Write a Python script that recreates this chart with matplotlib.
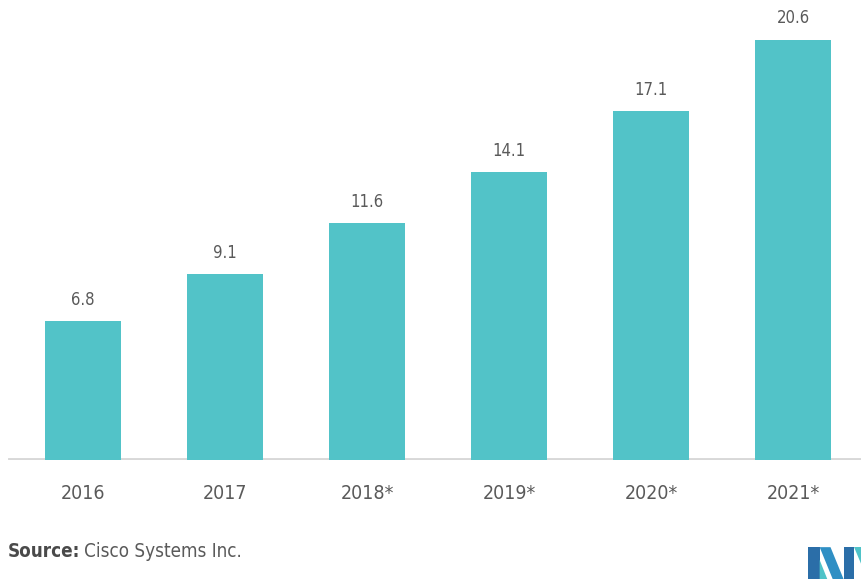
import matplotlib
matplotlib.use("Agg")
import matplotlib.pyplot as plt
import matplotlib.patches as mpatches

years = ["2016", "2017", "2018*", "2019*", "2020*", "2021*"]
values = [6.8, 9.1, 11.6, 14.1, 17.1, 20.6]

BAR_COLOR = "#52c3c8"
TEXT_COLOR = "#5a5a5a"

plt.rcParams["font.family"] = ["DejaVu Sans"]
plt.rcParams["font.stretch"] = "condensed"

fig = plt.figure(figsize=(8.62, 5.79), dpi=100)
ax = fig.add_axes([0.0, 0.2055, 1.0, 0.7945])

x = list(range(len(years)))
bars = ax.bar(x, values, width=0.54, color=BAR_COLOR, zorder=2)

for rect, v in zip(bars, values):
    ax.annotate(f"{v:.1f}", (rect.get_x() + rect.get_width() / 2, v),
                xytext=(0, 9), textcoords="offset points",
                ha="center", va="bottom", fontsize=12, color=TEXT_COLOR)

ax.set_xlim(-0.585, 5.486)
ax.set_ylim(0, 22.55)
ax.axhline(0, xmin=0.012, xmax=1.0, color="#d8d8d8", linewidth=2.8, zorder=1)

ax.set_xticks(x)
ax.set_xticklabels(years, fontsize=14, color=TEXT_COLOR)
ax.tick_params(axis="x", length=0, pad=17)
ax.set_yticks([])
for s in ax.spines.values():
    s.set_visible(False)

# source line
src = fig.text(0.009, 0.048, "Source:", fontsize=13.5, fontweight="bold",
               color="#4a4a4a", ha="left", va="center")
fig.canvas.draw()
bb = src.get_window_extent().transformed(fig.transFigure.inverted())
fig.text(bb.x1 + 0.005, 0.048, "Cisco Systems Inc.", fontsize=13.5,
         color=TEXT_COLOR, ha="left", va="center")

# small corner logo
logo = fig.add_axes([0.937, 0.0, 0.063, 0.055])
logo.set_xlim(0, 10)
logo.set_ylim(0, 6)
logo.axis("off")
shapes = [
    ([(0, 0), (0, 6), (2.2, 6), (2.2, 0)], "#2b6ea8"),
    ([(2.2, 6), (4.2, 6), (6.6, 0), (4.6, 0)], "#2f8fc4"),
    ([(2.2, 0), (2.2, 3.6), (3.6, 0)], "#4fc3c8"),
    ([(6.6, 0), (6.6, 6), (8.6, 6), (8.6, 0)], "#2b6ea8"),
    ([(8.6, 6), (10, 6), (10, 2.5)], "#4fc3c8"),
]
for pts, col in shapes:
    logo.add_patch(mpatches.Polygon(pts, closed=True, color=col, lw=0))

fig.savefig("out.png", dpi=100)
